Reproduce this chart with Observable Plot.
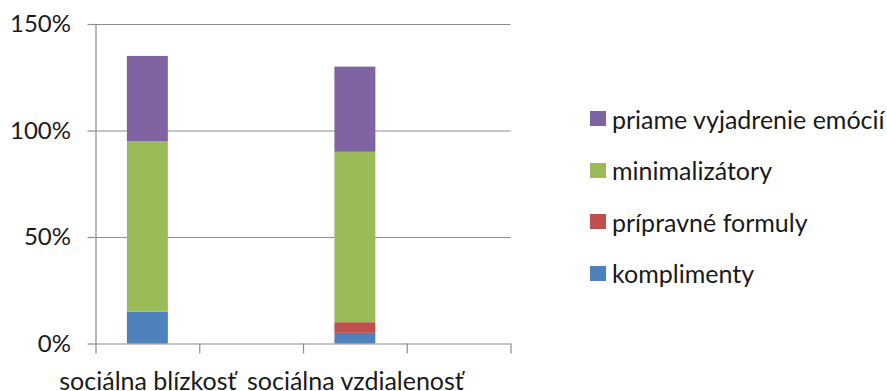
<!DOCTYPE html>
<html>
<head>
<meta charset="utf-8">
<script src="https://cdn.jsdelivr.net/npm/d3@7"></script>
<script src="https://cdn.jsdelivr.net/npm/@observablehq/plot@0.6"></script>
<style>
  body { margin: 0; background: #fff; }
  #wrap { position: relative; width: 887px; height: 391px; overflow: hidden; font-family: Lato, sans-serif; }
  #wrap svg { position: absolute; left: 0; top: 0; }
  .row { position: absolute; left: 590px; display: flex; align-items: center; white-space: nowrap; font-size: 25px; color: #1a1a1a; height: 30px; }
  .sw { width: 16px; height: 15px; margin-right: 6px; flex: none; }
</style>
</head>
<body>
<div id="wrap"></div>
<script>
// Category slots along the x axis (Excel chart has 4 slots, two of them empty)
const categories = ["sociálna blízkosť", "", "sociálna vzdialenosť", ""];
// Series (stack order bottom -> top)
const series = ["komplimenty", "prípravné formuly", "minimalizátory", "priame vyjadrenie emócií"];
const colors = ["#4F81BD", "#C0504D", "#9BBB59", "#8064A2"];
// Values per slot (fractions of 1 = 100%)
const komplimenty = [0.15, null, 0.05, null];
const pripravneFormuly = [0.00, null, 0.05, null];
const minimalizatory = [0.80, null, 0.80, null];
const priameVyjadrenie = [0.40, null, 0.40, null];
const yTicks = [0, 0.5, 1, 1.5];

const valuesBySeries = [komplimenty, pripravneFormuly, minimalizatory, priameVyjadrenie];
const rows = [];
series.forEach((s, k) => {
  valuesBySeries[k].forEach((v, i) => {
    if (v != null) rows.push({slot: i, series: s, value: v});
  });
});

const labelSlots = categories.map((c, i) => i).filter(i => categories[i] !== "");

const chart = Plot.plot({
  width: 887,
  height: 391,
  marginLeft: 95.5,
  marginRight: 376.5,
  marginTop: 24,
  marginBottom: 47.5,
  style: {fontFamily: "Lato, sans-serif", fontSize: "24px", color: "#1a1a1a", background: "transparent", overflow: "visible"},
  x: {domain: [0, categories.length], axis: null},
  y: {domain: [0, 1.5], axis: null},
  color: {domain: series, range: colors},
  marks: [
    Plot.ruleY(yTicks, {stroke: "#8c8c8c", strokeWidth: 1.2}),
    Plot.rectY(rows, Plot.stackY({
      x1: "slot",
      x2: d => d.slot + 1,
      y: "value",
      fill: "series",
      order: series,
      insetLeft: 31.4,
      insetRight: 31.4
    })),
    Plot.ruleX([0], {stroke: "#8c8c8c", strokeWidth: 1.2}),
    Plot.axisY({ticks: yTicks, tickFormat: d3.format(".0%"), tickSize: 8, tickPadding: 17, stroke: "#8c8c8c", strokeWidth: 1.2, label: null}),
    Plot.axisX({ticks: d3.range(categories.length + 1), tickSize: 10, tickFormat: () => "", stroke: "#8c8c8c", strokeWidth: 1.2, label: null}),
    Plot.axisX({ticks: labelSlots.map(i => i + 0.5), tickSize: 0, tickPadding: 28, fontSize: 25, tickFormat: d => categories[Math.floor(d)], label: null})
  ]
});

const wrap = document.getElementById("wrap");
wrap.appendChild(chart);

// Legend (top row = last series)
const legendCenters = [273, 221.5, 170, 118.5];
series.forEach((s, k) => {
  const row = document.createElement("div");
  row.className = "row";
  row.style.top = (legendCenters[k] - 15) + "px";
  const sw = document.createElement("span");
  sw.className = "sw";
  sw.style.background = colors[k];
  const t = document.createElement("span");
  t.textContent = s;
  row.appendChild(sw);
  row.appendChild(t);
  wrap.appendChild(row);
});
</script>
</body>
</html>
